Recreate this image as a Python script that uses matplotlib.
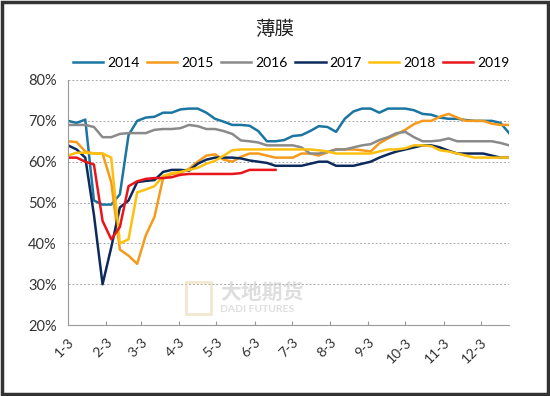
import matplotlib
matplotlib.use("Agg")
import matplotlib.pyplot as plt
import pandas as pd
from matplotlib.patches import Rectangle

plt.rcParams["font.family"] = ["Lato", "DejaVu Sans"]

# weekly utilisation, %
weeks = pd.date_range("2019-01-03", periods=52, freq="7D")

y2014 = [70, 69.5, 70.3, 50.5, 49.5, 49.5, 52, 66.5, 70, 70.8, 71, 72, 72, 72.8,
         73, 73, 72, 70.5, 69.8, 69, 69, 68.8, 67.5, 65, 65, 65.3, 66.3, 66.5,
         67.5, 68.7, 68.5, 67.3, 70.5, 72.3, 73, 73, 72, 73, 73, 73, 72.6, 71.7,
         71.5, 70.8, 70.5, 70.5, 70.2, 70, 70, 70, 69.5, 67]
y2015 = [65, 64.8, 62.5, 62, 62, 55, 38.5, 37, 35, 42, 46.5, 56, 57, 57.2,
         58.3, 60, 61.5, 61.8, 60.5, 60, 61.2, 62, 62, 61.5, 61, 61, 61, 62,
         62, 61.5, 62.3, 63, 63, 63, 62.8, 62.5, 64.5, 65.7, 66.7, 67.8, 69.2,
         70, 70, 71, 71.7, 70.8, 70, 70, 70, 69.3, 69, 69]
y2016 = [69, 69, 69, 68.5, 66, 66, 66.8, 67, 67, 67, 67.8, 68, 68, 68.2, 69,
         68.7, 68, 68, 67.5, 66.8, 65.2, 65, 64.7, 64, 64, 64, 64, 63.5, 62,
         62, 62.4, 63, 63, 63.5, 64, 64.3, 65.3, 66, 67, 67.3, 66, 65, 65, 65.2,
         65.7, 65, 65, 65, 65, 65, 64.6, 64]
y2017 = [64, 63, 61, 47, 30, 39, 48.8, 50.5, 55, 55.3, 55.5, 57.5, 58, 58,
         57.8, 59.5, 60.5, 61, 61, 61, 60.8, 60.3, 60, 59.7, 59, 59, 59, 59,
         59.5, 60, 60, 59, 59, 59, 59.5, 60, 61, 61.8, 62.5, 63, 63.5, 64, 64,
         63.5, 62.7, 62, 62, 62, 62, 61.5, 61, 61]
y2018 = [61.5, 62.2, 62.2, 62, 62, 61, 40, 41, 52.5, 53.2, 54, 56.5, 57.2,
         57.5, 58, 58.5, 59.5, 60.2, 61.5, 62.8, 63, 63, 63, 63, 63, 63, 63,
         63, 63, 62.8, 62.5, 62, 62, 62, 62, 62, 62.5, 63, 63, 63.3, 64, 64,
         63.8, 62.8, 62.5, 62, 61.5, 61, 61, 61, 61, 61]
y2019 = [61, 61, 60, 59.3, 45.5, 41, 44, 54, 55.2, 55.8, 56, 56, 56.2, 56.8,
         57, 57, 57, 57, 57, 57, 57.2, 58, 58, 58, 58]

series = [
    ("2014", y2014, "#1b75a2"),
    ("2015", y2015, "#f59a1b"),
    ("2016", y2016, "#8a8a8a"),
    ("2017", y2017, "#0c2a5c"),
    ("2018", y2018, "#fdc010"),
    ("2019", y2019, "#e8151b"),
]

tick_dates = pd.to_datetime([f"2019-{m:02d}-03" for m in range(1, 13)])
tick_labels = [f"{d.month}-{d.day}" for d in tick_dates]

fig = plt.figure(figsize=(5.5, 3.96), dpi=100)
ax = fig.add_axes([0.1236, 0.179, 0.802, 0.619])

for name, vals, col in series:
    ax.plot(weeks[:len(vals)], vals, color=col, lw=1.8, label=name,
            solid_joinstyle="round")

ax.set_ylim(20, 80)
ax.set_yticks(range(20, 81, 10))
ax.set_yticklabels([f"{v}%" for v in range(20, 81, 10)], fontsize=10.5, color="#333333")
ax.set_xlim(weeks[0], weeks[-1])
ax.set_xticks(tick_dates)
ax.set_xticklabels(tick_labels, rotation=45, ha="right", va="top",
                   rotation_mode="anchor", fontsize=10, color="#333333")
ax.tick_params(axis="x", direction="in", length=3, color="#999999", pad=8)
ax.tick_params(axis="y", length=0, pad=8)
ax.grid(axis="y", linestyle=(0, (2, 2)), color="#aaaaaa", lw=0.7)
ax.set_axisbelow(True)
for s in ("top", "right"):
    ax.spines[s].set_visible(False)
for s in ("left", "bottom"):
    ax.spines[s].set_color("#999999")
    ax.spines[s].set_linewidth(0.8)

fig.text(0.5, 0.925, "薄膜", ha="center", va="center", fontsize=14,
         family=["Noto Sans CJK SC", "DejaVu Sans"], color="#222222")
fig.legend(loc="center", bbox_to_anchor=(0.529, 0.842), ncol=6, frameon=False,
           fontsize=10, handlelength=2.2, handletextpad=0.25, columnspacing=0.55,
           borderaxespad=0, borderpad=0)

# watermark
fig.text(0.40, 0.262, "大地期货", fontsize=15, color="#c4c4c4", alpha=0.55,
         family=["Noto Sans CJK SC", "DejaVu Sans"], ha="left", va="center",
         fontweight="bold")
fig.text(0.40, 0.218, "DADI FUTURES", fontsize=7.5, color="#c4c4c4", alpha=0.55,
         ha="left", va="center", fontweight="bold")
fig.patches.append(Rectangle((0.338, 0.208), 0.046, 0.08, transform=fig.transFigure,
                             facecolor="none", edgecolor="#e6d6a8", lw=2, alpha=0.55))

# outer frame
fig.patches.append(Rectangle((0.003, 0.004), 0.994, 0.992, transform=fig.transFigure,
                             facecolor="none", edgecolor="#333333", lw=2.5))

fig.savefig("out.png", dpi=100)
